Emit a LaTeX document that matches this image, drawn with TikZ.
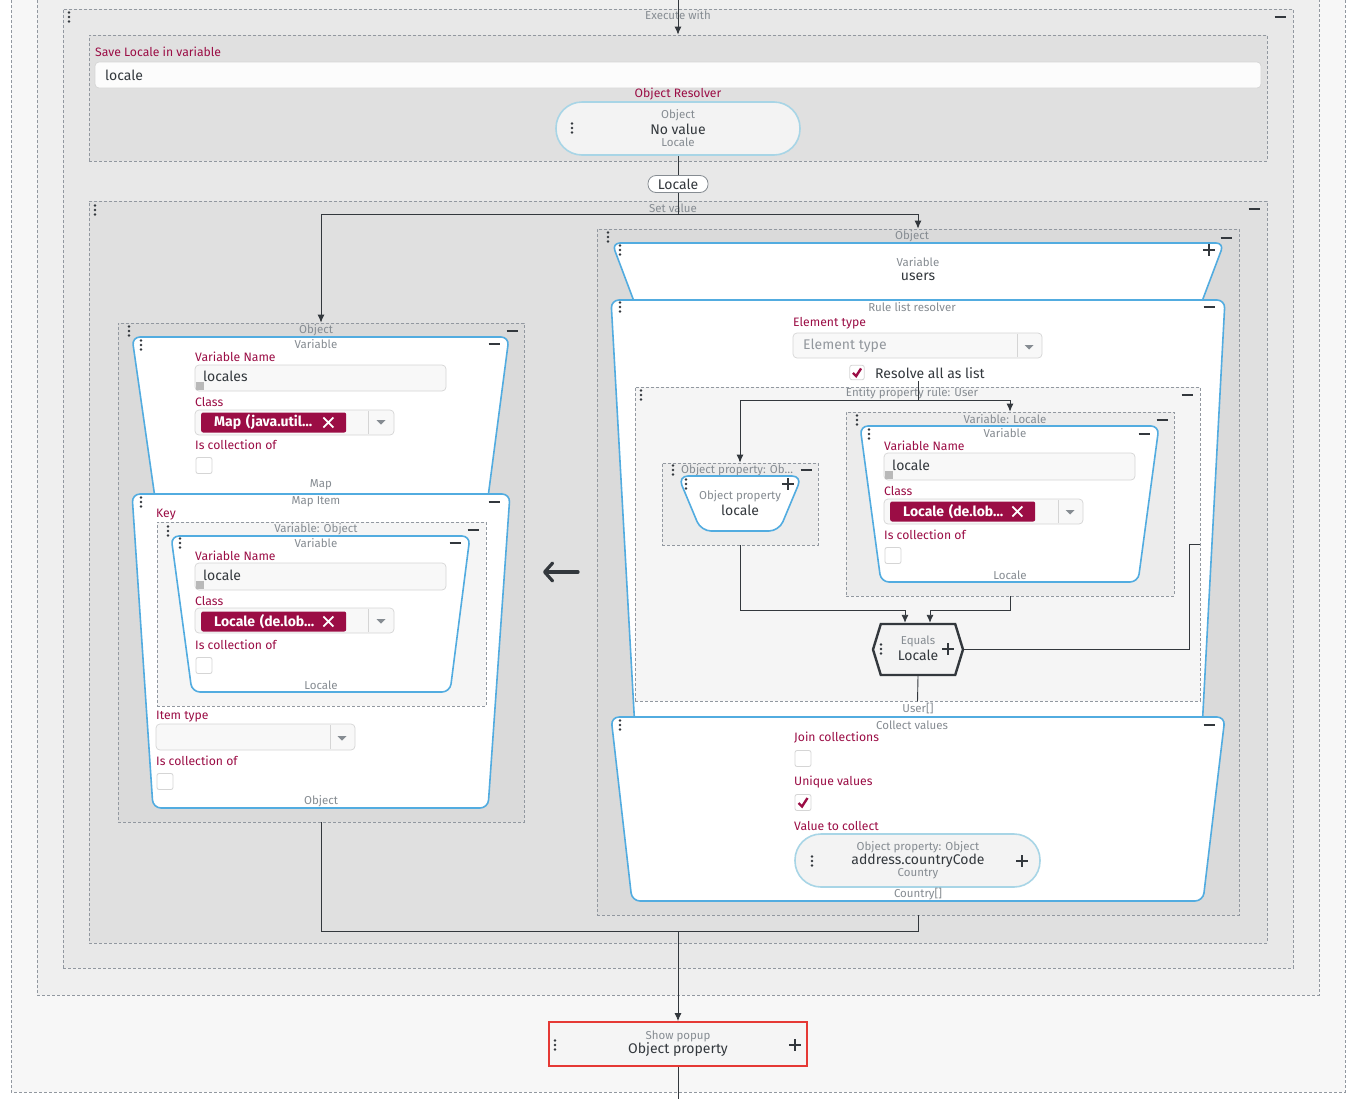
\documentclass[tikz,border=0pt]{standalone}
\usepackage{fontspec}
\setmainfont{Fira Sans}
\usetikzlibrary{arrows.meta,shapes.symbols}

\definecolor{crimson}{HTML}{9B0D45}
\definecolor{captxt}{HTML}{868C92}
\definecolor{darktxt}{HTML}{33383D}
\definecolor{dashc}{HTML}{9298A0}
\definecolor{bluebd}{HTML}{52ACE0}
\definecolor{pillbd}{HTML}{A8D5E6}
\definecolor{pillbg}{HTML}{F3F3F3}
\definecolor{fieldbd}{HTML}{D5D5D5}
\definecolor{fieldbg}{HTML}{F8F8F8}
\definecolor{popred}{HTML}{E53935}
\definecolor{lvlA}{HTML}{F7F7F7}
\definecolor{lvlB}{HTML}{EFEFEF}
\definecolor{lvlC}{HTML}{E8E8E8}
\definecolor{lvlD}{HTML}{E0E0E0}
\definecolor{lvlE}{HTML}{DADADA}
\definecolor{lvlF}{HTML}{F5F5F5}
\definecolor{lvlG}{HTML}{ECECEC}

\tikzset{
  grip/.pic={\fill[darktxt] (0,-4.5) circle (1.3pt) (0,0) circle (1.3pt) (0,4.5) circle (1.3pt);},
  minus/.pic={\draw[darktxt, line width=1.7pt] (-5.5,0) -- (5.5,0);},
  plus/.pic={\draw[darktxt, line width=1.5pt] (-6,0) -- (6,0) (0,-6) -- (0,6);},
  chk/.pic={\draw[fieldbd, fill=white, rounded corners=2pt, line width=0.8pt] (-8,-8) rectangle (8,8);},
  chkon/.pic={\draw[fieldbd, fill=white, rounded corners=2pt, line width=0.8pt] (-8,-8) rectangle (8,8);
              \draw[crimson, line width=2.4pt] (-4.5,0.5) -- (-1,4) -- (4.5,-4.5);},
  ddtri/.pic={\fill[captxt] (-4.5,-2) -- (4.5,-2) -- (0,2.5) -- cycle;},
  rsz/.pic={\fill[gray!55] (-4,-4) rectangle (4,4);},
  tagx/.pic={\draw[white, line width=1.8pt] (-5,-5) -- (5,5) (-5,5) -- (5,-5);}
}

\begin{document}
\begin{tikzpicture}[x=1pt,y=-1pt,
    group/.style={draw=dashc, dash pattern=on 3pt off 2pt, line width=0.7pt, inner sep=0pt},
    block/.style={draw=bluebd, fill=white, line width=1.6pt, rounded corners=8pt},
    captn/.style={text=captxt, font=\fontsize{11.5}{13}\selectfont, inner sep=0pt},
    lbl/.style={text=crimson, font=\fontsize{12.2}{14}\selectfont, inner sep=0pt, anchor=west},
    val/.style={text=darktxt, font=\fontsize{14}{16}\selectfont, inner sep=0pt},
    field/.style={draw=fieldbd, fill=fieldbg, rounded corners=4pt, line width=0.7pt},
    tag/.style={fill=crimson, rounded corners=2pt, text=white, anchor=west, align=left,
                text width=119pt, inner xsep=13pt, inner ysep=0pt, minimum height=20pt,
                font=\bfseries\fontsize{14}{16}\selectfont},
    pill/.style={draw=pillbd, fill=pillbg, line width=1.6pt, inner sep=0pt},
    arr/.style={-{Latex[length=8pt,width=7pt]}, darktxt, line width=0.9pt},
    wire/.style={darktxt, line width=0.9pt}]

  \useasboundingbox (0,0) rectangle (1356,1098);
  \clip (0,0) rectangle (1356,1098);
  \fill[white] (0,0) rectangle (1356,1098);

  %Outer frames%
  \draw[group, fill=lvlA] (11,-10) rectangle (1345,1092);
  \draw[group, fill=lvlB] (37,-10) rectangle (1319,995);
  \node[group, fill=lvlC, minimum width=1230pt, minimum height=959pt] (exec) at (678,488.5) {};
  \node[captn] (execcap) at (678,15) {Execute with};
  \pic at (69,17) {grip};  \pic at (1280,17) {minus};

  %Save Locale%
  \node[group, fill=lvlD, minimum width=1178pt, minimum height=126pt] (save) at (678,98) {};
  \node[lbl] (savelbl) at (95,52) {Save Locale in variable};
  \draw[field, fill=white!60!fieldbg] (95,62) rectangle (1261,88);
  \node[val, anchor=west] (saveval) at (105,75) {locale};
  \node[lbl, anchor=center] (reslbl) at (678,94) {Object Resolver};
  \node[pill, rounded corners=26pt, minimum width=244pt, minimum height=53pt] (resolver) at (678,128.5) {};
  \node[captn] (rescap) at (678,115) {Object};
  \node[val] (resval) at (678,129) {No value};
  \node[captn] (restype) at (678,142) {Locale};
  \pic at (572,128) {grip};
  \node[draw=captxt, fill=white, rounded corners=8pt, line width=0.8pt, minimum width=60pt,
        minimum height=17pt, inner sep=0pt, val] (localepill) at (678,184) {Locale};

  %Set value%
  \node[group, fill=lvlD, minimum width=1178pt, minimum height=742pt] (setval) at (678,572) {};
  \node[captn] (setcap) at (673,208) {Set value};
  \pic at (95,210) {grip};  \pic at (1254,209) {minus};

  %Left: Map object%
  \node[group, fill=lvlE, minimum width=406pt, minimum height=499pt] (lobj) at (321,572.5) {};
  \node[captn] (lobjcap) at (316,330) {Object};
  \pic at (129,331) {grip};  \pic at (512,331) {minus};
  \draw[block] (132,337) -- (509,337) -- (487,505) -- (156,505) -- cycle;
  \node[captn] (lvarcap) at (316,344) {Variable};
  \pic at (141,345) {grip};  \pic at (494,344) {minus};
  \node[lbl] (lvname) at (195,357) {Variable Name};
  \draw[field] (195,365) rectangle (446,391);
  \pic at (200,386) {rsz};
  \node[val, anchor=west] (lvval) at (203,376) {locales};
  \node[lbl] (lvclass) at (195,402) {Class};
  \draw[field] (195,410) rectangle (394,435);
  \draw[fieldbd] (368,411) -- (368,434);
  \pic at (381,422) {ddtri};
  \node[tag] (lvtag) at (201,422.5) {Map (java.util…};
  \pic at ([xshift=-18pt]lvtag.east) {tagx};
  \node[lbl] (lvcoll) at (195,445) {Is collection of};
  \pic at (204,465.5) {chk};
  \node[captn] (lvtype) at (321,485) {Map};

  \draw[block] (132,494) -- (510,494) -- (488,808) -- (153,808) -- cycle;
  \node[captn] (mapcap) at (316,502) {Map Item};
  \pic at (141,502) {grip};  \pic at (494,502) {minus};
  \node[lbl] (keylbl) at (156,515) {Key};
  \node[group, fill=lvlF, minimum width=329pt, minimum height=184pt] (keyvar) at (321.5,614) {};
  \node[captn] (keycap) at (316,529) {Variable: Object};
  \pic at (168,531) {grip};  \pic at (473,530) {minus};
  \draw[block] (171,536) -- (470,536) -- (450,692) -- (192,692) -- cycle;
  \node[captn] (kvarcap) at (316,543) {Variable};
  \pic at (180,543) {grip};  \pic at (455,543) {minus};
  \node[lbl] (kvname) at (195,556) {Variable Name};
  \draw[field] (195,563) rectangle (446,590);
  \pic at (200,585) {rsz};
  \node[val, anchor=west] (kvval) at (203,575) {locale};
  \node[lbl] (kvclass) at (195,601) {Class};
  \draw[field] (195,608) rectangle (394,633);
  \draw[fieldbd] (368,609) -- (368,632);
  \pic at (381,621) {ddtri};
  \node[tag] (kvtag) at (201,621.5) {Locale (de.lob…};
  \pic at ([xshift=-18pt]kvtag.east) {tagx};
  \node[lbl] (kvcoll) at (195,645) {Is collection of};
  \pic at (204,665.5) {chk};
  \node[captn] (kvtype) at (321,685) {Locale};
  \node[lbl] (itemlbl) at (156,717) {Item type};
  \draw[field] (156,724) rectangle (355,750);
  \draw[fieldbd] (330,725) -- (330,749);
  \pic at (342,738) {ddtri};
  \node[lbl] (itemcoll) at (156,761) {Is collection of};
  \pic at (165,781.5) {chk};
  \node[captn] (maptype) at (321,801) {Object};

  %Big arrow%
  \draw[darktxt, line width=3.2pt, line cap=round,
        -{Straight Barb[length=8pt,width=18pt,line cap=round,line join=round]}] (578,572) -- (543,572);

  %Right: users object%
  \node[group, fill=lvlE, minimum width=642pt, minimum height=686pt] (robj) at (918,572) {};
  \node[captn] (robjcap) at (912,236) {Object};
  \pic at (608,237) {grip};  \pic at (1226,238) {minus};
  \draw[block] (612,243) -- (1224,243) -- (1198,312) -- (638,312) -- cycle;
  \node[captn] (uvarcap) at (918,262) {Variable};
  \node[val] (uvarval) at (918,277) {users};
  \pic at (620,250) {grip};  \pic at (1209,250) {plus};

  \draw[block] (611,300) -- (1225,300) -- (1202,730) -- (635,730) -- cycle;
  \node[captn] (rulecap) at (912,307) {Rule list resolver};
  \pic at (620,307) {grip};  \pic at (1209,307) {minus};
  \node[lbl] (eltlbl) at (793,323) {Element type};
  \draw[field] (793,333) rectangle (1042,358);
  \draw[fieldbd] (1017,334) -- (1017,357);
  \pic at (1029,347) {ddtri};
  \node[val, text=captxt!90, anchor=west] (eltval) at (803,346) {Element type};
  \pic[scale=0.9] at (857,372.5) {chkon};
  \node[val, anchor=west] (alllbl) at (875,373) {Resolve all as list};

  \node[group, fill=lvlF, minimum width=565pt, minimum height=314pt] (entity) at (917.5,544) {};
  \node[captn] (entcap) at (912,393) {Entity property rule: User};
  \pic at (641,395) {grip};  \pic at (1187,395) {minus};

  \node[group, fill=lvlG, minimum width=156pt, minimum height=82pt] (opbox) at (740,504) {};
  \node[captn, anchor=west] (opcap) at (681,470) {Object property: Ob…};
  \pic at (673,470) {grip};  \pic at (806,470) {minus};
  \draw[block, rounded corners=10pt] (678,476) -- (802,476) -- (779,531) -- (701,531) -- cycle;
  \node[captn] (opname) at (740,496) {Object property};
  \node[val] (opval) at (740,510) {locale};
  \pic at (686,484) {grip};  \pic at (788,484) {plus};

  \node[group, fill=lvlG, minimum width=328pt, minimum height=184pt] (varloc) at (1010,504) {};
  \node[captn] (vlcap) at (1005,419) {Variable: Locale};
  \pic at (857,420) {grip};  \pic at (1162,420) {minus};
  \draw[block] (860,426) -- (1159,426) -- (1138,582) -- (881,582) -- cycle;
  \node[captn] (vlvarcap) at (1005,433) {Variable};
  \pic at (869,434) {grip};  \pic at (1144,434) {minus};
  \node[lbl] (vlname) at (884,446) {Variable Name};
  \draw[field] (884,453) rectangle (1135,480);
  \pic at (889,475) {rsz};
  \node[val, anchor=west] (vlval) at (892,465) {locale};
  \node[lbl] (vlclass) at (884,491) {Class};
  \draw[field] (884,499) rectangle (1083,524);
  \draw[fieldbd] (1058,500) -- (1058,523);
  \pic at (1070,512) {ddtri};
  \node[tag] (vltag) at (890,511.5) {Locale (de.lob…};
  \pic at ([xshift=-18pt]vltag.east) {tagx};
  \node[lbl] (vlcoll) at (884,535) {Is collection of};
  \pic at (893,555.5) {chk};
  \node[captn] (vltype) at (1010,575) {Locale};

  \node[signal, signal to=west and east, signal pointer angle=146, draw=darktxt, fill=pillbg,
        line width=2.4pt, minimum width=90pt, minimum height=51pt, inner sep=0pt] (equals) at (918,649.5) {};
  \node[captn] (eqcap) at (918,641) {Equals};
  \node[val] (eqval) at (918,655) {Locale};
  \pic at (881,649) {grip};  \pic at (948,649) {plus};
  \node[captn] (enttype) at (918,708) {User[]};

  \draw[block] (611,717) -- (1225,717) -- (1203,901) -- (632,901) -- cycle;
  \node[captn] (colcap) at (912,725) {Collect values};
  \pic at (620,725) {grip};  \pic at (1209,725) {minus};
  \node[lbl] (joinlbl) at (794,738) {Join collections};
  \pic at (803,758.5) {chk};
  \node[lbl] (uniqlbl) at (794,782) {Unique values};
  \pic at (803,802.5) {chkon};
  \node[lbl] (vtclbl) at (794,826) {Value to collect};
  \node[pill, rounded corners=26pt, minimum width=245pt, minimum height=53pt] (country) at (917.5,860.5) {};
  \node[captn] (ctrcap) at (918,847) {Object property: Object};
  \node[val] (ctrval) at (918,861) {address.countryCode};
  \node[captn] (ctrtype) at (918,874) {Country};
  \pic at (812,861) {grip};  \pic at (1022,861) {plus};
  \node[captn] (coltype) at (918,894) {Country[]};

  %Show popup%
  \node[draw=popred, fill=lvlF, line width=1.8pt, minimum width=258pt, minimum height=44pt, inner sep=0pt] (popup) at (678,1044) {};
  \node[captn] (popcap) at (678,1036) {Show popup};
  \node[val] (popval) at (678,1050) {Object property};
  \pic at (555,1045) {grip};  \pic at (795,1045) {plus};

  %Connectors%
  \coordinate (topin) at (678,-1);
  \draw[arr] (topin) -- (save.north);
  \draw[wire] (resolver.south) -- (localepill.north);
  \coordinate (split) at (678,214);
  \draw[wire] (localepill.south) -- (split);
  \draw[arr] (split) -| (lobj.north);
  \draw[arr] (split) -| (robj.north);

  \coordinate (rlout) at (918,381);
  \coordinate (rsplit) at (918,400);
  \draw[wire] (rlout) -- (rsplit);
  \draw[arr] (rsplit) -| (opbox.north);
  \draw[arr] (rsplit) -| (varloc.north);
  \draw[arr] (opbox.south) -- ++(0,65) -| ([xshift=-13pt]equals.north);
  \draw[arr] (varloc.south) -- ++(0,14) -| ([xshift=12pt]equals.north);
  \draw[wire] (equals.east) -- ++(225,0) |- (entity.east);
  \draw[wire] (equals.south) -- (entity.south);

  \coordinate (join) at (678,931);
  \draw[wire] (lobj.south) |- (join);
  \draw[wire] (robj.south) |- (join);
  \draw[arr] (join) -- (popup.north);
  \coordinate (botout) at (678,1099);
  \draw[wire] (popup.south) -- (botout);
\end{tikzpicture}
\end{document}
